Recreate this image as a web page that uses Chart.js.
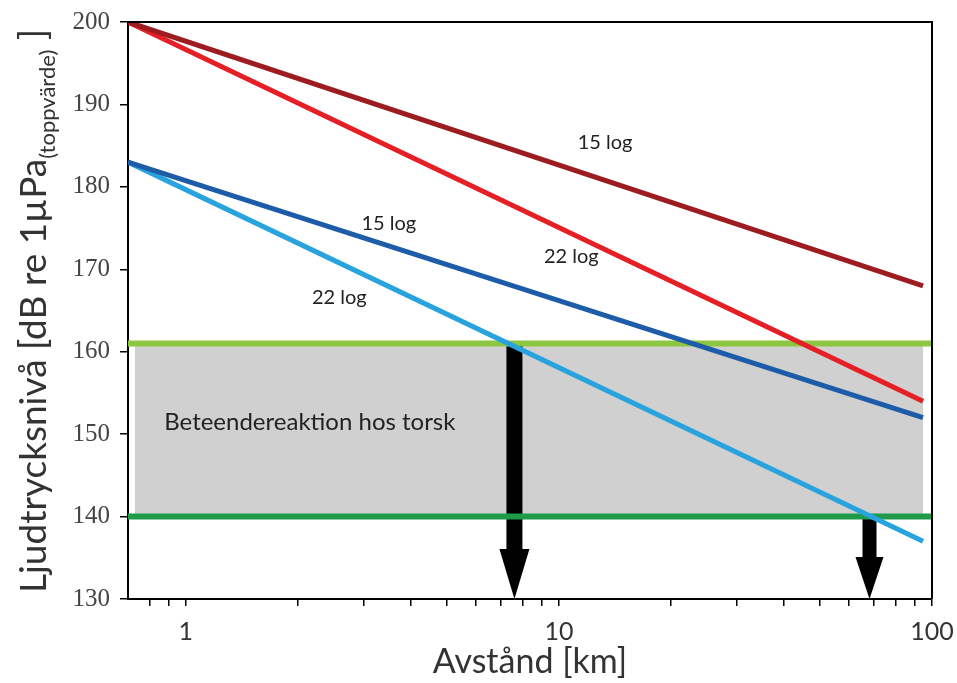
<!DOCTYPE html>
<html>
<head>
<meta charset="utf-8">
<script src="https://cdn.jsdelivr.net/npm/chart.js@4/dist/chart.umd.min.js"></script>
<style>
  html, body { margin: 0; padding: 0; background: #fff; }
  #wrap { width: 957px; height: 683px; }
</style>
</head>
<body>
<div id="wrap"><canvas id="diagram" width="957" height="683"></canvas></div>
<script>
// Avstånd (km) där linjerna börjar och slutar
const distans = [0.7, 94.6];
// Ljudnivåer (dB re 1µPa toppvärde)
const hog15log = [200, 168];
const hog22log = [200, 154];
const lag15log = [183, 152];
const lag22log = [183, 137];

// Beteendezon (grått fält) och gränslinjer
const zonX = [0.73, 94.6];
const zonOver = 161;
const zonUnder = 140;
const granslinjeX = [0.7, 100];

// Pilar: x-läge och startnivå
const pilX = [7.6, 68];
const pilStart = [161, 140];
const pilSlut = 130;

// Axlar
const xTicks = [0.8, 0.9, 1, 2, 3, 4, 5, 6, 7, 8, 9, 10, 20, 30, 40, 50, 60, 70, 80, 90, 100];
const xEtiketter = [1, 10, 100];
const yTicks = [130, 140, 150, 160, 170, 180, 190, 200];

// Textetiketter i diagrammet
const etiketter = [
  { text: '15 log', x: 13.3, y: 185.4, size: 20 },
  { text: '22 log', x: 10.8, y: 171.6, size: 20 },
  { text: '15 log', x: 3.5, y: 175.5, size: 20 },
  { text: '22 log', x: 2.58, y: 166.6, size: 20 },
  { text: 'Beteendereaktion hos torsk', x: 2.15, y: 151.5, size: 24 }
];

const punkter = (xs, ys) => xs.map((x, i) => ({ x: x, y: ys[i] }));
const FONT = 'Lato, "Open Sans", sans-serif';

function linje(data, farg, ordning, bredd) {
  return { data: data, borderColor: farg, borderWidth: bredd, fill: false, order: ordning, pointRadius: 0 };
}

const datasets = [
  linje(punkter(distans, hog15log), '#9c1c20', 1, 5),
  linje(punkter(distans, hog22log), '#e51f26', 1, 5),
  linje(punkter(distans, lag15log), '#1d5ca8', 1, 5),
  linje(punkter(distans, lag22log), '#29a3de', 1, 5),
  linje(punkter(granslinjeX, [zonOver, zonOver]), '#8dc641', 5, 6),
  linje(punkter(granslinjeX, [zonUnder, zonUnder]), '#1f9a48', 5, 6),
  {
    data: punkter(zonX, [zonOver, zonOver]),
    borderWidth: 0,
    backgroundColor: '#d0d0d0',
    fill: { value: zonUnder },
    order: 10,
    pointRadius: 0
  }
];
const ZON_INDEX = datasets.length - 1;

// Pilar ritas direkt efter det grå fältet, under gränslinjerna
const pilPlugin = {
  id: 'pilar',
  afterDatasetDraw(chart, args) {
    if (args.index !== ZON_INDEX) return;
    const c = chart.ctx, xs = chart.scales.x, ys = chart.scales.y;
    c.save();
    c.fillStyle = '#000';
    pilX.forEach((v, i) => {
      const px = xs.getPixelForValue(v);
      const top = ys.getPixelForValue(pilStart[i]);
      const tip = ys.getPixelForValue(pilSlut);
      const huvud = i === 0 ? 50 : 42;
      const skaft = i === 0 ? 8 : 7;
      const bred = i === 0 ? 15 : 14;
      c.beginPath();
      c.moveTo(px - skaft, top);
      c.lineTo(px + skaft, top);
      c.lineTo(px + skaft, tip - huvud);
      c.lineTo(px + bred, tip - huvud);
      c.lineTo(px, tip);
      c.lineTo(px - bred, tip - huvud);
      c.lineTo(px - skaft, tip - huvud);
      c.closePath();
      c.fill();
    });
    c.restore();
  }
};

const textPlugin = {
  id: 'texter',
  afterDraw(chart) {
    const c = chart.ctx, xs = chart.scales.x, ys = chart.scales.y, a = chart.chartArea;
    c.save();
    // ram uppe och till höger
    c.strokeStyle = '#000';
    c.lineWidth = 2;
    c.beginPath();
    c.moveTo(a.left, a.top);
    c.lineTo(a.right, a.top);
    c.lineTo(a.right, a.bottom);
    c.stroke();

    c.fillStyle = '#222';
    c.textAlign = 'center';
    c.textBaseline = 'middle';
    etiketter.forEach(e => {
      c.font = e.size + 'px ' + FONT;
      c.fillText(e.text, xs.getPixelForValue(e.x), ys.getPixelForValue(e.y));
    });

    // x-axelns titel
    c.fillStyle = '#333';
    c.font = '34px ' + FONT;
    c.textBaseline = 'alphabetic';
    c.fillText('Avstånd [km]', 530, 673);

    // y-axelns titel med nedsänkt text
    const delar = [
      { t: 'Ljudtrycksnivå [dB re 1µPa', f: '37px ' + FONT, dy: 0 },
      { t: '(toppvärde)', f: '22px ' + FONT, dy: 9 },
      { t: ' ]', f: '37px ' + FONT, dy: 0 }
    ];
    let total = 0;
    delar.forEach(d => { c.font = d.f; d.w = c.measureText(d.t).width; total += d.w; });
    c.translate(46, 311);
    c.rotate(-Math.PI / 2);
    c.textAlign = 'left';
    let pos = -total / 2;
    delar.forEach(d => {
      c.font = d.f;
      c.fillText(d.t, pos, d.dy);
      pos += d.w;
    });
    c.restore();
  }
};

new Chart(document.getElementById('diagram'), {
  type: 'line',
  data: { datasets: datasets },
  options: {
    responsive: false,
    animation: false,
    layout: { padding: { top: 22, right: 25, left: 0, bottom: 0 } },
    plugins: { legend: { display: false }, tooltip: { enabled: false } },
    elements: { line: { tension: 0 } },
    scales: {
      x: {
        type: 'logarithmic',
        min: 0.7,
        max: 100,
        afterBuildTicks: s => { s.ticks = xTicks.map(v => ({ value: v })); },
        afterFit: s => { s.height = 84; s.paddingLeft = 0; s.paddingRight = 0; },
        ticks: {
          autoSkip: false,
          maxRotation: 0,
          padding: 11,
          color: '#333',
          font: { family: FONT, size: 25 },
          callback: v => xEtiketter.includes(v) ? String(v) : ''
        },
        grid: { drawOnChartArea: false, drawTicks: true, tickLength: 7, color: '#000', lineWidth: 1.5 },
        border: { color: '#000', width: 2 }
      },
      y: {
        min: 130,
        max: 200,
        afterBuildTicks: s => { s.ticks = yTicks.map(v => ({ value: v })); },
        afterFit: s => { s.width = 128; s.paddingTop = 0; s.paddingBottom = 0; },
        ticks: {
          padding: 10,
          color: '#444',
          font: { family: '"Liberation Serif", serif', size: 25 }
        },
        grid: { drawOnChartArea: false, drawTicks: true, tickLength: 8, color: '#000', lineWidth: 1.5 },
        border: { color: '#000', width: 2 }
      }
    }
  },
  plugins: [pilPlugin, textPlugin]
});
</script>
</body>
</html>
